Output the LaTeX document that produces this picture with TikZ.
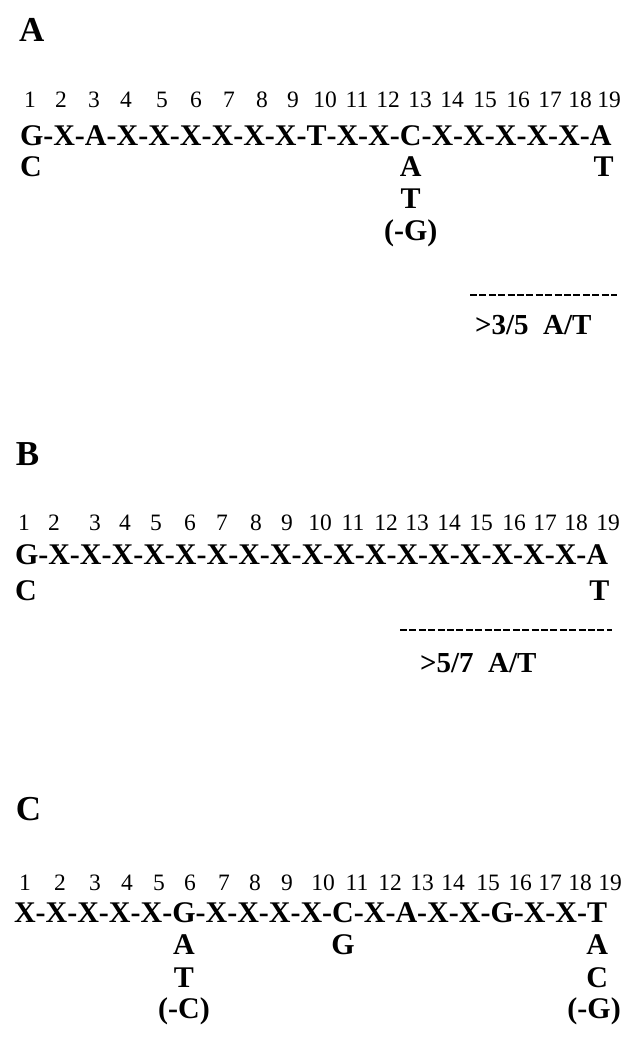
\documentclass[tikz,border=0pt]{standalone}
\usepackage{fontspec}
\setmainfont{Liberation Serif}
\begin{document}
\begin{tikzpicture}[x=1pt,y=-1pt,
  panel/.style={inner sep=0pt,outer sep=0pt,anchor=base west,font=\fontsize{35}{35}\selectfont\bfseries},
  num/.style={inner sep=0pt,outer sep=0pt,anchor=base,font=\fontsize{23.5}{23.5}\selectfont},
  seqch/.style={inner sep=0pt,outer sep=0pt,anchor=base west,font=\fontsize{30}{30}\selectfont\bfseries},
  base/.style={inner sep=0pt,outer sep=0pt,anchor=base,font=\fontsize{30}{30}\selectfont\bfseries},
  note/.style={inner sep=0pt,outer sep=0pt,anchor=base west,font=\fontsize{29}{29}\selectfont\bfseries},
  ruler/.style={line width=2.4pt,dash pattern=on 7pt off 2.4pt}]
\useasboundingbox (0,0) rectangle (629,1054);

% sequence row: letters chained with hyphens, letter i named <prefix><i>
\newcommand\seqline[4]{%
  \foreach \L [count=\i] in {#4} {%
    \ifnum\i=1
      \node[seqch] (#1\i) at (#2,#3) {\L};
    \else
      \pgfmathtruncatemacro\j{\i-1}%
      \node[seqch] (#1h\i) at (#1\j.base east) {-};
      \node[seqch] (#1\i) at (#1h\i.base east) {\L};
    \fi
  }}
% position numbers above a row
\newcommand\numline[3]{%
  \foreach \px [count=\i] in {#3} {%
    \node[num] (#1n\i) at (\px,#2) {\i};
  }}

% ---------- panel A ----------
\node[panel] (labA) at (19,42) {A};
\numline{a}{108}{30,61,94,126,162,196,229,262,293,325,357,388,420,452,485,518,550,580,609}
\seqline{a}{20}{146}{G,X,A,X,X,X,X,X,X,T,X,X,C,X,X,X,X,X,A}
\node[seqch] (aC1) at (a1.base west) [yshift=-30pt] {C};
\node[base] (aA13) at ([yshift=-30pt]a13.base) {A};
\node[base] (aT13) at ([yshift=-62pt]a13.base) {T};
\node[base] (aG13) at ([yshift=-94pt]a13.base) {(-G)};
\node[base] (aT19) at ([xshift=3pt,yshift=-30pt]a19.base) {T};
\coordinate (aDs) at (470,295);
\coordinate (aDe) at (617,295);
\draw[ruler] (aDs) -- (aDe);
\node[note] (aNote) at (475,334) {>3/5\ \ A/T};

% ---------- panel B ----------
\node[panel] (labB) at (16,465) {B};
\numline{b}{530}{24,54,95,125,156,190,222,256,287,320,353,386,417,449,481,514,545,576,608}
\seqline{b}{15}{564}{G,X,X,X,X,X,X,X,X,X,X,X,X,X,X,X,X,X,A}
\node[seqch] (bC1) at (b1.base west) [yshift=-36pt] {C};
\node[base] (bT19) at ([xshift=2pt,yshift=-36pt]b19.base) {T};
\coordinate (bDs) at (400,630);
\coordinate (bDe) at (612,630);
\draw[ruler] (bDs) -- (bDe);
\node[note] (bNote) at (420,672) {>5/7\ \ A/T};

% ---------- panel C ----------
\node[panel] (labC) at (16,820) {C};
\numline{c}{890}{25,60,95,127,159,190,224,255,287,323,357,390,422,453,488,520,550,580,610}
\seqline{c}{14}{922}{X,X,X,X,X,G,X,X,X,X,C,X,A,X,X,G,X,X,T}
\node[base] (cA6) at ([yshift=-32pt]c6.base) {A};
\node[base] (cT6) at ([yshift=-65pt]c6.base) {T};
\node[base] (cC6) at ([yshift=-96pt]c6.base) {(-C)};
\node[base] (cG11) at ([yshift=-32pt]c11.base) {G};
\node[base] (cA19) at ([yshift=-32pt]c19.base) {A};
\node[base] (cC19) at ([yshift=-65pt]c19.base) {C};
\node[base] (cG19) at ([xshift=-3pt,yshift=-96pt]c19.base) {(-G)};
\end{tikzpicture}
\end{document}
